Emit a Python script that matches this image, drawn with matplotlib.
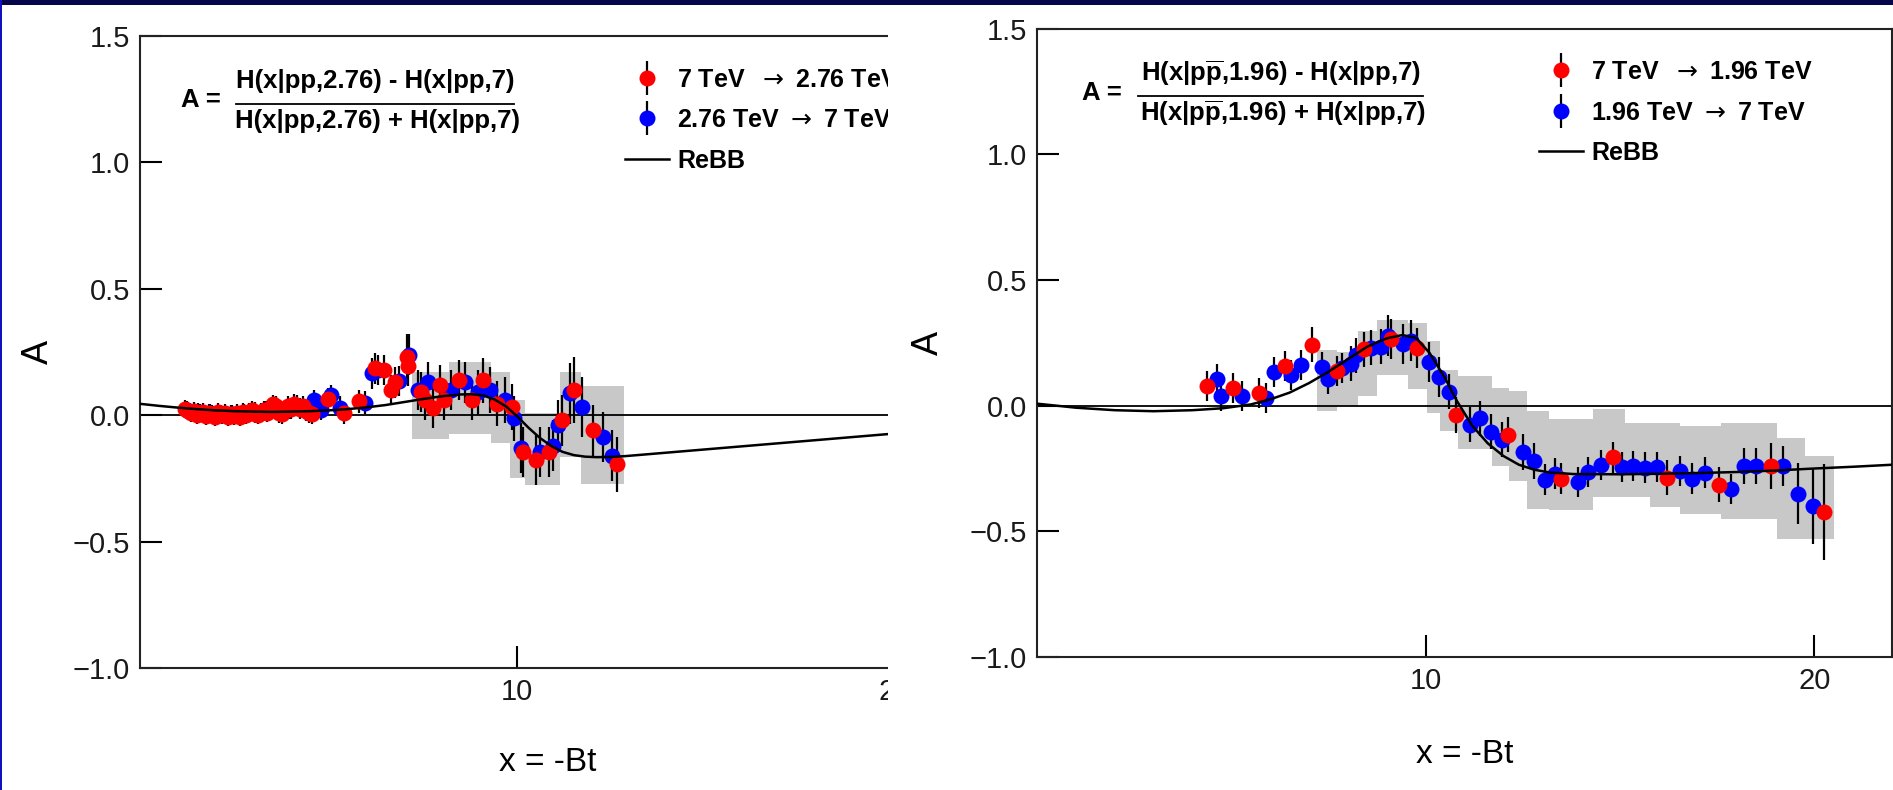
import matplotlib
matplotlib.use('Agg')
import matplotlib.pyplot as plt
from matplotlib.patches import Rectangle
from matplotlib.container import ErrorbarContainer
from matplotlib.legend_handler import HandlerErrorbar

plt.rcParams['font.family'] = ['Liberation Sans', 'DejaVu Sans']
plt.rcParams['mathtext.fontset'] = 'custom'
plt.rcParams['mathtext.rm'] = 'Liberation Sans:bold'
plt.rcParams['mathtext.bf'] = 'Liberation Sans:bold'
BOLD = ['Liberation Sans', 'DejaVu Sans']

#### left panel: 7 TeV <-> 2.76 TeV
l_red_x = [1.20, 1.28, 1.36, 1.44, 1.52, 1.60, 1.68, 1.76, 1.84, 1.92, 2.00, 2.08, 2.16,
           2.24, 2.32, 2.40, 2.48, 2.56, 2.64, 2.72, 2.80, 2.88, 2.96, 3.04, 3.12, 3.20,
           3.28, 3.36, 3.44, 3.52, 3.60, 3.68, 3.76, 3.84, 3.92, 4.00, 4.08, 4.16, 4.24,
           4.32, 4.40, 4.48, 4.56, 4.98, 5.40, 5.80, 6.24, 6.46, 6.66, 6.77, 7.08, 7.10,
           7.46, 7.55, 7.76, 7.94, 8.07, 8.46, 8.79, 9.10, 9.45, 9.85, 10.15, 10.50,
           10.85, 11.18, 11.50, 12.00, 12.64]
l_red_a = [0.025, 0.018, 0.008, 0.016, 0.002, 0.008, 0.014, -0.004, 0.010, 0.004, -0.006,
           0.012, 0.000, 0.008, -0.008, 0.006, -0.004, 0.010, -0.006, 0.012, 0.002, 0.014,
           0.022, 0.006, 0.000, 0.014, 0.022, 0.010, 0.028, 0.045, 0.035, 0.010, 0.004,
           0.020, 0.035, 0.024, 0.045, 0.038, 0.024, 0.035, 0.016, 0.008, 0.004, 0.066,
           0.007, 0.055, 0.185, 0.178, 0.100, 0.130, 0.230, 0.195, 0.092, 0.060, 0.030,
           0.120, 0.060, 0.140, 0.060, 0.138, 0.046, 0.033, -0.145, -0.178, -0.145,
           -0.020, 0.099, -0.060, -0.195]
l_red_err = [0.035] * 30 + [0.04] * 13 + [0.04, 0.04, 0.045, 0.06, 0.06, 0.06, 0.06, 0.09,
             0.08, 0.08, 0.08, 0.08, 0.08, 0.08, 0.08, 0.08, 0.09, 0.09, 0.09, 0.10, 0.10,
             0.10, 0.10, 0.13, 0.10, 0.11]

l_blue_x = [1.25, 1.55, 1.85, 2.15, 2.45, 2.75, 3.05, 3.35, 3.65, 3.95, 4.25, 4.60, 4.80,
            5.05, 5.30, 5.97, 6.15, 6.30, 6.86, 7.12, 7.37, 7.63, 8.25, 8.61, 8.96, 9.27,
            9.67, 9.90, 10.10, 10.60, 10.95, 11.08, 11.40, 11.72, 12.26, 12.50]
l_blue_a = [0.020, 0.012, 0.008, 0.005, 0.004, 0.008, 0.012, 0.018, 0.020, 0.025, 0.030,
            0.059, 0.020, 0.079, 0.030, 0.050, 0.165, 0.180, 0.135, 0.240, 0.100, 0.130,
            0.100, 0.130, 0.090, 0.100, 0.060, -0.013, -0.130, -0.145, -0.120, -0.040,
            0.086, 0.033, -0.087, -0.160]
l_blue_err = [0.035, 0.035, 0.035, 0.035, 0.035, 0.035, 0.04, 0.04, 0.04, 0.04, 0.04, 0.04,
              0.04, 0.04, 0.045, 0.045, 0.06, 0.06, 0.06, 0.08, 0.08, 0.08, 0.08, 0.08,
              0.09, 0.09, 0.09, 0.09, 0.10, 0.10, 0.10, 0.10, 0.12, 0.12, 0.10, 0.10]

l_band_x = [7.22, 8.20, 9.30, 9.80, 10.20, 11.12, 11.70, 12.84]
l_band_lo = [-0.096, -0.075, -0.110, -0.250, -0.277, -0.165, -0.272]
l_band_hi = [0.170, 0.210, 0.170, 0.060, 0.007, 0.170, 0.115]

l_rebb_x = [0.0, 0.5, 1.0, 1.5, 2.0, 2.5, 3.0, 3.5, 4.0, 4.5, 5.0, 5.5, 6.0, 6.5, 7.0,
            7.5, 8.0, 8.5, 8.8, 9.1, 9.4, 9.7, 10.0, 10.3, 10.6, 10.9, 11.2, 11.5, 11.8,
            12.1, 12.5, 12.85, 19.8, 21.6]
l_rebb_a = [0.045, 0.037, 0.030, 0.024, 0.019, 0.016, 0.014, 0.013, 0.014, 0.016, 0.019,
            0.024, 0.031, 0.040, 0.052, 0.064, 0.075, 0.082, 0.083, 0.078, 0.062, 0.035,
            -0.005, -0.050, -0.090, -0.122, -0.145, -0.158, -0.164, -0.166, -0.165,
            -0.162, -0.075, -0.053]

#### right panel: 7 TeV <-> 1.96 TeV
r_red_x = [4.37, 5.04, 5.71, 6.37, 7.07, 7.73, 8.41, 9.11, 9.78, 10.77, 12.13, 13.49,
           14.82, 16.20, 17.56, 18.89, 20.25]
r_red_a = [0.079, 0.071, 0.051, 0.159, 0.243, 0.139, 0.225, 0.265, 0.231, -0.037, -0.115,
           -0.290, -0.206, -0.286, -0.314, -0.240, -0.424]
r_red_err = [0.06, 0.06, 0.06, 0.06, 0.07, 0.06, 0.07, 0.08, 0.08, 0.07, 0.07, 0.06, 0.06,
             0.07, 0.07, 0.09, 0.19]

r_blue_x = [4.62, 4.73, 5.28, 5.90, 6.09, 6.53, 6.79, 7.34, 7.50, 7.86, 8.09, 8.22, 8.59,
            8.84, 9.03, 9.42, 9.63, 10.09, 10.35, 10.60, 11.13, 11.39, 11.69, 11.97, 12.50,
            12.79, 13.07, 13.33, 13.91, 14.19, 14.51, 15.06, 15.34, 15.65, 15.96, 16.54,
            16.85, 17.20, 17.87, 18.18, 18.50, 19.20, 19.59, 19.98]
r_blue_a = [0.107, 0.037, 0.037, 0.031, 0.135, 0.121, 0.161, 0.155, 0.107, 0.151, 0.167,
            0.201, 0.231, 0.235, 0.279, 0.245, 0.259, 0.175, 0.115, 0.055, -0.076, -0.050,
            -0.104, -0.136, -0.184, -0.220, -0.294, -0.270, -0.304, -0.264, -0.236, -0.244,
            -0.240, -0.246, -0.244, -0.260, -0.290, -0.266, -0.330, -0.240, -0.240,
            -0.240, -0.350, -0.400]
r_blue_err = [0.06] * 10 + [0.07] * 4 + [0.08] * 5 + [0.07] * 7 + [0.06] * 13 + \
             [0.07, 0.07, 0.08, 0.12, 0.15]

r_band_x = [7.20, 7.72, 8.26, 8.75, 9.54, 10.03, 10.37, 10.82, 11.71, 12.15, 12.60, 13.18,
            14.30, 15.14, 15.77, 16.54, 17.60, 19.04, 19.75, 20.50]
r_band_lo = [-0.022, -0.002, 0.038, 0.123, 0.065, -0.028, -0.100, -0.173, -0.240, -0.300,
             -0.410, -0.416, -0.364, -0.364, -0.404, -0.430, -0.450, -0.530, -0.530]
r_band_hi = [0.222, 0.215, 0.296, 0.340, 0.330, 0.256, 0.143, 0.117, 0.071, 0.058, -0.020,
             -0.054, -0.014, -0.068, -0.068, -0.080, -0.070, -0.130, -0.200]

r_rebb_x = [0.0, 1.0, 2.0, 3.0, 4.0, 4.8, 5.5, 6.0, 6.5, 7.0, 7.5, 8.0, 8.5, 9.0, 9.4, 9.75,
            10.1, 10.5, 10.8, 11.2, 11.6, 12.0, 12.4, 12.8, 13.2, 13.8, 15.0, 16.0, 17.0,
            18.0, 19.0, 20.0, 21.0, 22.0]
r_rebb_a = [0.008, -0.008, -0.018, -0.022, -0.018, -0.010, 0.005, 0.025, 0.052, 0.090,
            0.135, 0.185, 0.235, 0.268, 0.281, 0.270, 0.210, 0.110, 0.020, -0.080, -0.150,
            -0.200, -0.235, -0.255, -0.266, -0.272, -0.273, -0.271, -0.268, -0.264,
            -0.258, -0.250, -0.243, -0.235]

y_ticks = [-1.0, -0.5, 0.0, 0.5, 1.0, 1.5]
x_ticks = [10, 20]
ARROW = r'$\rightarrow$'

W, H = 1893, 790
fig = plt.figure(figsize=(W / 100, H / 100), dpi=100)
fig.patch.set_facecolor('white')


def draw_panel(ax, band_x, band_lo, band_hi, rebb_x, rebb_a, bx, ba, be, rx, ra, re_,
               xmax, labels, num, den, frac, leg_anchor):
    ax.fill_between(band_x, band_lo + [band_lo[-1]], band_hi + [band_hi[-1]], step='post',
                    color='#c8c8c8', lw=0, zorder=1)
    ax.axhline(0, color='black', lw=1.3, zorder=2)
    eb_b = ax.errorbar(bx, ba, yerr=be, fmt='o', color='#0000ff', ms=11.5, mec='none',
                       ecolor='black', elinewidth=1.6, zorder=3)
    eb_r = ax.errorbar(rx, ra, yerr=re_, fmt='o', color='#ff0000', ms=11.5, mec='none',
                       ecolor='black', elinewidth=1.6, zorder=3)
    ln, = ax.plot(rebb_x, rebb_a, color='black', lw=1.8, zorder=4)

    ax.set_xlim(0, xmax)
    ax.set_ylim(-1.0, 1.5)
    ax.set_xticks(x_ticks)
    ax.set_yticks(y_ticks)
    ax.tick_params(direction='in', length=16, width=1.5, labelsize=21, pad=7,
                   labelcolor='#1a1a1a')
    for s in ax.spines.values():
        s.set_linewidth(1.5)
        s.set_color('#222222')

    leg = ax.legend([eb_r, eb_b, ln], labels, loc='upper left', bbox_to_anchor=leg_anchor,
                    frameon=False, borderpad=0, borderaxespad=0, handlelength=1.75,
                    handletextpad=0.35, labelspacing=0.66,
                    prop={'family': BOLD, 'weight': 'bold', 'size': 18},
                    handler_map={ErrorbarContainer: HandlerErrorbar(yerr_size=0.68)})
    # thin, wider arrow like the slide's symbol font
    for t in leg.get_texts():
        t.set_math_fontfamily('dejavusans')

    # formula A = (..)/(..)
    a_x, a_y, num_x, num_y, bar0, bar1, bar_y, den_x, den_y = frac
    kw = dict(transform=ax.transAxes, ha='center', va='center', fontsize=18.5,
              fontweight='bold', family=BOLD)
    ax.text(a_x, a_y, 'A =', **kw)
    ax.text(num_x, num_y, num, **kw)
    ax.text(den_x, den_y, den, **kw)
    ax.plot([bar0, bar1], [bar_y, bar_y], transform=ax.transAxes, color='black', lw=1.3,
            clip_on=False)


# left axes runs past the visible panel, the slide crops it at x=888 px
ax1 = fig.add_axes([140 / W, 1 - 668 / H, 815 / W, 632 / H], zorder=0)
draw_panel(ax1, l_band_x, l_band_lo, l_band_hi, l_rebb_x, l_rebb_a,
           l_blue_x, l_blue_a, l_blue_err, l_red_x, l_red_a, l_red_err, 21.6,
           ['7 TeV  ' + ARROW + ' 2.76 TeV', '2.76 TeV ' + ARROW + ' 7 TeV', 'ReBB'],
           'H(x|pp,2.76) - H(x|pp,7)', 'H(x|pp,2.76) + H(x|pp,7)',
           (0.0748, 0.898, 0.2883, 0.9294, 0.1178, 0.4589, 0.8921, 0.2908, 0.8658),
           (0.595, 0.950))
ax1.set_ylabel('A', fontsize=26)
ax1.yaxis.set_label_coords(-0.103, 0.5)
ax1.set_xlabel('x = -Bt', fontsize=24)
ax1.xaxis.set_label_coords(0.5, -0.125)

ax2 = fig.add_axes([1037 / W, 1 - 657 / H, 855 / W, 628.3 / H], zorder=2)
draw_panel(ax2, r_band_x, r_band_lo, r_band_hi, r_rebb_x, r_rebb_a,
           r_blue_x, r_blue_a, r_blue_err, r_red_x, r_red_a, r_red_err, 22.0,
           ['7 TeV  ' + ARROW + ' 1.96 TeV', '1.96 TeV ' + ARROW + ' 7 TeV', 'ReBB'],
           r'H(x|p$\overline{\mathrm{p}}$,1.96) - H(x|pp,7)',
           r'H(x|p$\overline{\mathrm{p}}$,1.96) + H(x|pp,7)',
           (0.0754, 0.8975, 0.2848, 0.9295, 0.1177, 0.4515, 0.8934, 0.2884, 0.8654),
           (0.587, 0.950))
ax2.set_ylabel('A', fontsize=26)
ax2.yaxis.set_label_coords(-0.106, 0.5)
ax2.set_xlabel('x = -Bt', fontsize=24)
ax2.xaxis.set_label_coords(0.5, -0.13)

# white mask cropping the left panel, navy slide frame
fig.add_artist(Rectangle((888 / W, 0), (1036 - 888) / W, 1, transform=fig.transFigure,
                         facecolor='white', edgecolor='none', zorder=1))
fig.add_artist(Rectangle((0, 1 - 5 / H), 1, 5 / H, transform=fig.transFigure,
                         facecolor='#06064a', edgecolor='none', zorder=10))
fig.add_artist(Rectangle((0, 0), 2 / W, 1, transform=fig.transFigure,
                         facecolor='#1010c0', edgecolor='none', zorder=10))

fig.savefig('out.png', dpi=100, facecolor='white')
